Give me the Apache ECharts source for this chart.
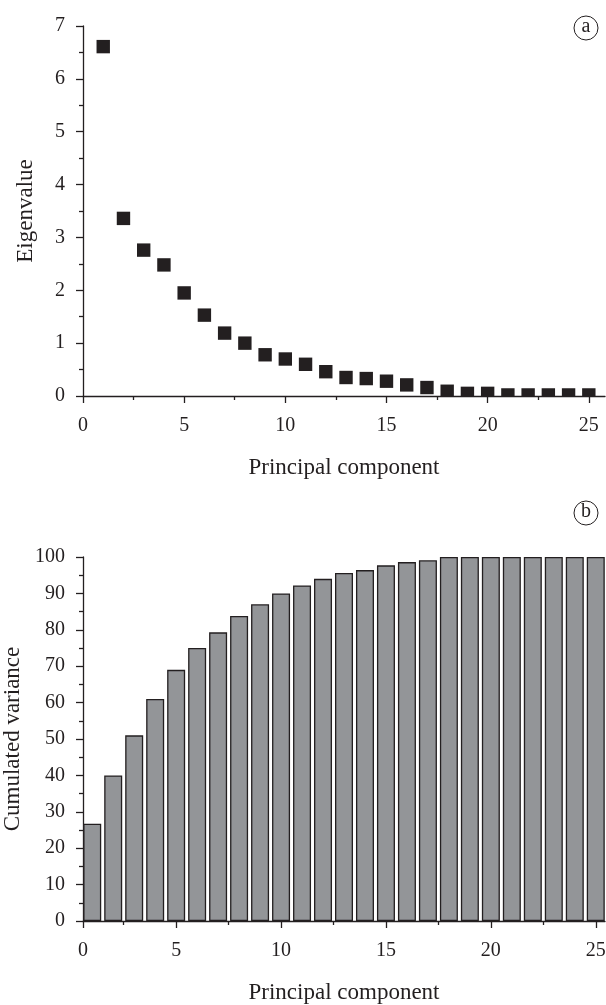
<!DOCTYPE html>
<html>
<head>
<meta charset="utf-8">
<title>Principal components</title>
<script src="https://cdn.jsdelivr.net/npm/echarts@6/dist/echarts.min.js"></script>
<style>
  html, body { margin: 0; padding: 0; background: #fff; }
  #container { width: 606px; height: 1005px; }
</style>
</head>
<body>
<div id="container"></div>
<script type="text/javascript">
// data
var components = [1, 2, 3, 4, 5, 6, 7, 8, 9, 10, 11, 12, 13, 14, 15, 16, 17, 18, 19, 20, 21, 22, 23, 24, 25];
var eigenvalues = [6.61, 3.36, 2.76, 2.48, 1.95, 1.53, 1.19, 1.00, 0.78, 0.70, 0.60, 0.46, 0.35, 0.33, 0.28,
                   0.21, 0.16, 0.09, 0.05, 0.05, 0.02, 0.02, 0.02, 0.02, 0.02];
var cumulatedVariance = [26.7, 40.0, 51.0, 61.0, 69.0, 75.0, 79.3, 83.8, 87.0, 90.0, 92.2, 94.0, 95.6, 96.4, 97.7,
                         98.6, 99.1, 100, 100, 100, 100, 100, 100, 100, 100];
var topXTicks = [0, 5, 10, 15, 20, 25];
var bottomXTicks = [0.56, 5, 10, 15, 20, 25];   // first tick sits at the left edge of bar 1, labelled "0"
var xMinorTicks = [2.5, 7.5, 12.5, 17.5, 22.5];

var ink = '#231f20';
var serif = 'Liberation Serif';

var dom = document.getElementById('container');
var myChart = echarts.init(dom, null, { renderer: 'canvas' });

function majorX(gridIndex, min, max, ticks, name) {
    return {
        type: 'value', gridIndex: gridIndex, position: 'bottom', min: min, max: max,
        name: name, nameLocation: 'middle', nameGap: 60,
        nameTextStyle: { fontFamily: serif, fontSize: 23, color: ink },
        axisLine: { show: true, onZero: false, lineStyle: { color: ink, width: 1.3 } },
        axisTick: { show: true, length: 7, customValues: ticks, lineStyle: { color: ink, width: 1.3 } },
        axisLabel: {
            customValues: ticks, margin: 20, fontFamily: serif, fontSize: 20, color: ink,
            formatter: function (v) { return v < 1 ? '0' : String(v); }
        },
        splitLine: { show: false }
    };
}
// second axis on the same grid, only for the short ticks at 2.5, 7.5, ...
function minorX(gridIndex, min, max) {
    return {
        type: 'value', gridIndex: gridIndex, position: 'bottom', min: min, max: max,
        axisLine: { show: false, onZero: false },
        axisTick: { show: true, length: 4, customValues: xMinorTicks, lineStyle: { color: ink, width: 1.3 } },
        axisLabel: { show: false },
        splitLine: { show: false }
    };
}
function yAxisOf(gridIndex, max, interval, name, gap) {
    return {
        type: 'value', gridIndex: gridIndex, min: 0, max: max, interval: interval,
        name: name, nameLocation: 'middle', nameGap: gap,
        nameTextStyle: { fontFamily: serif, fontSize: 23, color: ink },
        axisLine: { show: true, onZero: false, lineStyle: { color: ink, width: 1.3 } },
        axisTick: { show: true, length: 7, lineStyle: { color: ink, width: 1.3 } },
        minorTick: { show: true, splitNumber: 2, length: 4, lineStyle: { color: ink, width: 1.3 } },
        axisLabel: { margin: 18, fontFamily: serif, fontSize: 20, color: ink },
        splitLine: { show: false }
    };
}

var option = {
    animation: false,
    backgroundColor: '#fff',
    grid: [
        { left: 83, top: 26, width: 522, height: 370, containLabel: false, outerBoundsMode: 'none' },
        { left: 83, top: 557, width: 522, height: 364, containLabel: false, outerBoundsMode: 'none' }
    ],
    xAxis: [
        majorX(0, 0, 25.8, topXTicks, 'Principal component'),
        minorX(0, 0, 25.8),
        majorX(1, 0.56, 25.44, bottomXTicks, 'Principal component'),
        minorX(1, 0.56, 25.44)
    ],
    yAxis: [
        yAxisOf(0, 7, 1, 'Eigenvalue', 46),
        yAxisOf(1, 100, 10, 'Cumulated variance', 54)
    ],
    graphic: [
        { type: 'circle', shape: { cx: 586, cy: 28, r: 12 }, style: { fill: '#fff', stroke: ink, lineWidth: 1 } },
        { type: 'text', x: 586, y: 27, style: { text: 'a', align: 'center', verticalAlign: 'middle', font: '20px "Liberation Serif"', fill: ink } },
        { type: 'circle', shape: { cx: 586, cy: 513, r: 12 }, style: { fill: '#fff', stroke: ink, lineWidth: 1 } },
        { type: 'text', x: 586, y: 512, style: { text: 'b', align: 'center', verticalAlign: 'middle', font: '20px "Liberation Serif"', fill: ink } }
    ],
    series: [
        {
            type: 'custom',
            xAxisIndex: 0, yAxisIndex: 0,
            clip: true,
            data: components.map(function (c, i) { return [c, eigenvalues[i]]; }),
            renderItem: function (params, api) {
                var p = api.coord([api.value(0), api.value(1)]);
                var s = 13.4;
                return { type: 'rect', shape: { x: p[0] - s / 2, y: p[1] - s / 2, width: s, height: s }, style: { fill: ink } };
            }
        },
        {
            type: 'bar',
            xAxisIndex: 2, yAxisIndex: 1,
            barWidth: 18,
            data: components.map(function (c, i) { return [c, cumulatedVariance[i]]; }),
            itemStyle: { color: '#939598', borderColor: ink, borderWidth: 1.3 }
        }
    ]
};
myChart.setOption(option);
</script>
</body>
</html>
